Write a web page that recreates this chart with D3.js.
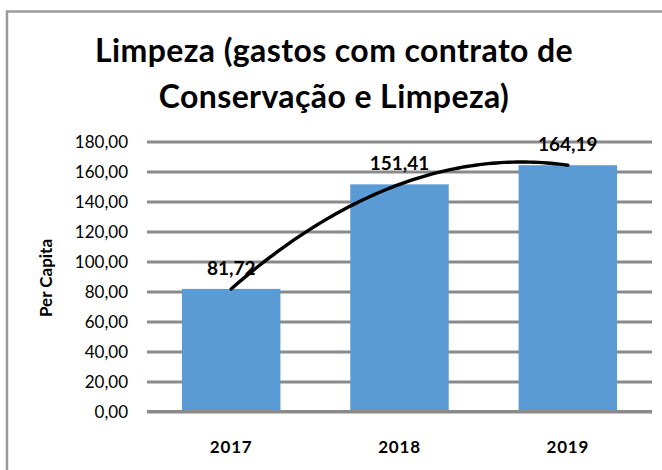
<!DOCTYPE html>
<html>
<head>
<meta charset="utf-8">
<script src="https://cdn.jsdelivr.net/npm/d3@7"></script>
<style>
  html, body { margin: 0; padding: 0; background: #fff; }
  svg { display: block; }
  text { font-family: Lato, "Open Sans", sans-serif; fill: #000; }
</style>
</head>
<body>
<svg id="chart" width="662" height="470"></svg>
<script>
// Per-capita spending on the cleaning and conservation contract
const years = ["2017", "2018", "2019"];
const perCapita = [81.72, 151.41, 164.19];
const yTicks = [0, 20, 40, 60, 80, 100, 120, 140, 160, 180];
const titleLines = ["Limpeza (gastos com contrato de", "Conservação e Limpeza)"];
const yAxisTitle = "Per Capita";

const svg = d3.select("#chart");
const W = 662, H = 470;
const plot = { left: 147, right: 652, top: 141.5, bottom: 411.5 };

const fmt = v => d3.format(".2f")(v).replace(".", ",");

// chart frame (open to the right and bottom edges)
svg.append("rect")
  .attr("x", 7).attr("y", 11.5)
  .attr("width", W + 20).attr("height", H + 20)
  .attr("fill", "#fff").attr("stroke", "#9a9a9a").attr("stroke-width", 2.5);

// title
svg.append("g").selectAll("text").data(titleLines).join("text")
  .attr("x", 334).attr("y", (d, i) => 62 + i * 45.5)
  .attr("text-anchor", "middle")
  .attr("font-weight", 700).attr("font-size", 32)
  .attr("letter-spacing", 0.4)
  .text(d => d);

const x = d3.scaleBand().domain(years)
  .range([plot.left, plot.right]).paddingInner(0.415).paddingOuter(0.2075);
const y = d3.scaleLinear().domain([0, 180]).range([plot.bottom, plot.top]);

// horizontal gridlines + value axis labels
const yAxis = d3.axisLeft(y).tickValues(yTicks).tickFormat(fmt).tickSize(0).tickPadding(0);
const gy = svg.append("g").attr("transform", `translate(${plot.left},0)`).call(yAxis);
gy.select(".domain").remove();
gy.selectAll(".tick line")
  .attr("x2", plot.right - plot.left)
  .attr("stroke", "#8a8a8a").attr("stroke-width", 3);
gy.selectAll(".tick text")
  .attr("x", -19).attr("dy", "0.36em")
  .attr("font-size", 17).attr("font-family", "Lato, sans-serif").attr("fill", "#000");

// bars
svg.append("g").selectAll("rect").data(years).join("rect")
  .attr("x", d => x(d))
  .attr("width", x.bandwidth())
  .attr("y", (d, i) => y(perCapita[i]))
  .attr("height", (d, i) => y(0) - y(perCapita[i]))
  .attr("fill", "#5b9bd5");

// category axis
const xAxis = d3.axisBottom(x).tickSize(0).tickPadding(0);
const gx = svg.append("g").attr("transform", `translate(0,${plot.bottom})`).call(xAxis);
gx.select(".domain").remove();
gx.selectAll(".tick text")
  .attr("y", 41).attr("dy", 0)
  .attr("font-size", 17).attr("font-weight", 700)
  .attr("letter-spacing", 0.8)
  .attr("font-family", "Lato, sans-serif").attr("fill", "#000");
svg.append("line")
  .attr("x1", plot.left).attr("x2", plot.right)
  .attr("y1", plot.bottom).attr("y2", plot.bottom)
  .attr("stroke", "#8a8a8a").attr("stroke-width", 3);

// polynomial (order 2) trendline fitted to the series by least squares
const xs = years.map((d, i) => i), n = xs.length;
function polyFit(xv, yv, deg) {
  const m = deg + 1;
  const A = Array.from({ length: m }, () => new Array(m + 1).fill(0));
  for (let r = 0; r < m; r++) {
    for (let c = 0; c < m; c++) A[r][c] = d3.sum(xv, v => Math.pow(v, r + c));
    A[r][m] = d3.sum(xv, (v, k) => Math.pow(v, r) * yv[k]);
  }
  for (let p = 0; p < m; p++) {
    let best = p;
    for (let r = p + 1; r < m; r++) if (Math.abs(A[r][p]) > Math.abs(A[best][p])) best = r;
    [A[p], A[best]] = [A[best], A[p]];
    for (let r = 0; r < m; r++) {
      if (r === p) continue;
      const f = A[r][p] / A[p][p];
      for (let c = p; c <= m; c++) A[r][c] -= f * A[p][c];
    }
  }
  return A.map((row, r) => row[m] / row[r]);
}
const coef = polyFit(xs, perCapita, 2);
const trend = t => coef[0] + coef[1] * t + coef[2] * t * t;
const xCenter = i => x(years[0]) + x.bandwidth() / 2 + i * x.step();
const samples = d3.range(0, n - 1 + 1e-9, (n - 1) / 80);
svg.append("path")
  .datum(samples)
  .attr("d", d3.line().x(t => xCenter(t)).y(t => y(trend(t))))
  .attr("fill", "none").attr("stroke", "#000").attr("stroke-width", 3.4)
  .attr("stroke-linecap", "round");

// data labels
svg.append("g").selectAll("text").data(years).join("text")
  .attr("x", d => x(d) + x.bandwidth() / 2)
  .attr("y", (d, i) => y(perCapita[i]) - 14)
  .attr("text-anchor", "middle")
  .attr("font-size", 19).attr("font-weight", 700)
  .text((d, i) => fmt(perCapita[i]));

// value axis title
svg.append("text")
  .attr("transform", "translate(52,278) rotate(-90)")
  .attr("text-anchor", "middle")
  .attr("font-size", 17).attr("font-weight", 700)
  .text(yAxisTitle);
</script>
</body>
</html>
